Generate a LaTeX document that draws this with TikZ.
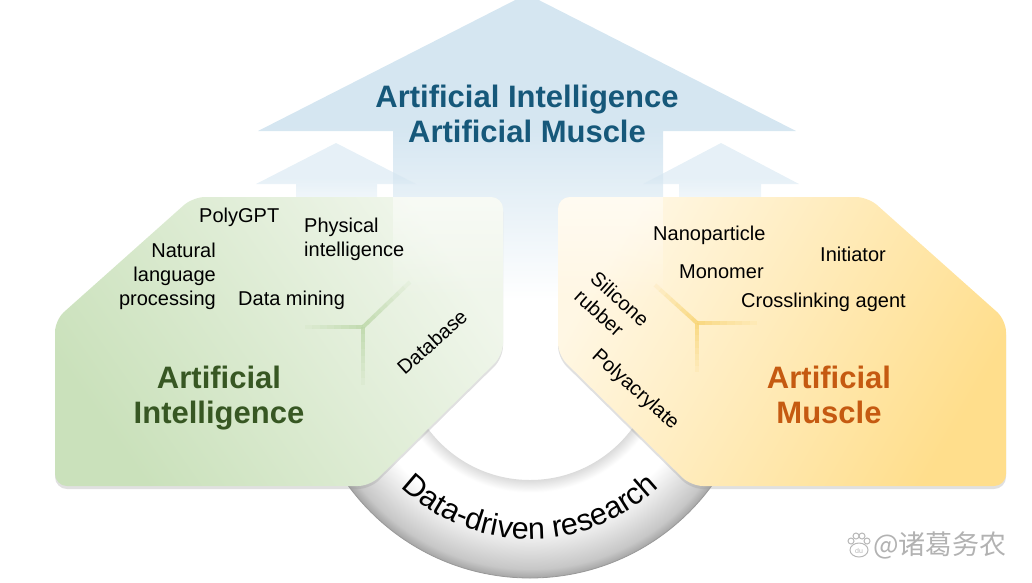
\documentclass[tikz,border=0pt]{standalone}
\usepackage{fontspec}
\setmainfont{Liberation Sans}
\newfontfamily\cjkfont{Noto Sans CJK SC}
\usetikzlibrary{calc,decorations.text,fadings}

\definecolor{arrowblue}{RGB}{213,230,241}
\definecolor{titleblue}{RGB}{22,88,122}
\definecolor{aidark}{RGB}{202,225,187}
\definecolor{ailight}{RGB}{240,246,235}
\definecolor{aitext}{RGB}{55,87,35}
\definecolor{aiglow}{RGB}{188,215,168}
\definecolor{amdark}{RGB}{255,222,140}
\definecolor{amlight}{RGB}{255,247,228}
\definecolor{amtext}{RGB}{197,90,17}
\definecolor{amglow}{RGB}{248,212,115}

\pgfdeclareverticalshading{arrowfade}{100bp}{color(0bp)=(white); color(33bp)=(white); color(57bp)=(arrowblue); color(100bp)=(arrowblue)}
\pgfdeclareradialshading{ringshade}{\pgfpoint{0bp}{0bp}}{color(0bp)=(white); color(14bp)=(black!15); color(15.5bp)=(white); color(19bp)=(white); color(24bp)=(black!22); color(25bp)=(black!35); color(50bp)=(black!35)}
\tikzfading[name=shaftfade, top color=transparent!45, bottom color=transparent!100]

\newcommand{\aipath}{(193,197) -- (503,197) -- (503,355) -- (370,486) -- (55,486) -- (55,320) -- cycle}
\newcommand{\ampath}{(558,197) -- (868,197) -- (1006,320) -- (1006,486) -- (691,486) -- (558,355) -- cycle}

\begin{document}
\begin{tikzpicture}[x=1pt,y=-1pt,
  lbl/.style={font=\fontsize{20}{24}\selectfont, inner sep=0pt},
  bigtitle/.style={font=\fontsize{31}{35}\selectfont\bfseries, align=center, inner sep=0pt},
  boxshadow/.style={fill=black!40, opacity=0.3, rounded corners=12pt, yshift=-3pt},
  aibox/.style={rounded corners=12pt, top color=ailight, bottom color=aidark, shading angle=-55},
  ambox/.style={rounded corners=12pt, top color=amlight, bottom color=amdark, shading angle=60},
  shaftglow/.style={fill=white, path fading=shaftfade}]
\useasboundingbox (0,0) rectangle (1032,582);

% Arrows
\shade[shading=arrowfade] (527,-6) -- (796,131) -- (663,131) -- (663,360) -- (393,360) -- (393,131) -- (258,131) -- cycle;
\shade[shading=arrowfade, opacity=0.6] (336,143) -- (416,184) -- (377,184) -- (377,240) -- (296,240) -- (296,184) -- (256,184) -- cycle;
\shade[shading=arrowfade, opacity=0.6] (721,143) -- (799,184) -- (761,184) -- (761,240) -- (679,240) -- (679,184) -- (643,184) -- cycle;

% Ring
\coordinate (rc) at (530,353);
\begin{scope}
  \clip (300,353) rectangle (760,590);
  \shade[shading=ringshade, even odd rule] (rc) circle[radius=225] (rc) circle[radius=127];
  \draw[black!40, line width=0.8pt] (rc) circle[radius=225];
\end{scope}
\path[decorate, decoration={text along path, text align=center,
  text={|\fontsize{30.5}{30.5}\selectfont|Data-driven research}}]
  ($(rc)+(152:186)$) arc[start angle=152, end angle=28, radius=186];

% Boxes
\fill[boxshadow] \aipath;
\fill[boxshadow] \ampath;
\shade[aibox] \aipath;
\shade[ambox] \ampath;
\begin{scope}
  \clip[rounded corners=12pt] \aipath;
  \fill[shaftglow] (393,190) rectangle (520,300);
\end{scope}
\begin{scope}
  \clip[rounded corners=12pt] \ampath;
  \fill[shaftglow] (540,190) rectangle (663,300);
\end{scope}

% Glow lines
\coordinate (aiy) at (363,327);
\coordinate (aiy1) at (410,282);
\coordinate (aiy2) at (305,327);
\coordinate (aiy3) at (363,385);
\coordinate (amy) at (697,323);
\coordinate (amy1) at (655,285);
\coordinate (amy2) at (757,323);
\coordinate (amy3) at (697,372);
\foreach \yc/\ytip/\ycol in {aiy/aiy1/aiglow, aiy/aiy2/aiglow, aiy/aiy3/aiglow, amy/amy1/amglow, amy/amy2/amglow, amy/amy3/amglow} {
  \foreach \k [evaluate=\k as \pa using \k/8, evaluate=\k as \pb using \k/8+0.125, evaluate=\k as \op using 0.8-0.095*\k] in {0,...,7} {
    \path (\yc) -- (\ytip) coordinate[pos=\pa] (ga) coordinate[pos=\pb] (gb);
    \draw[\ycol, line width=4pt, draw opacity=\op] (ga) -- (gb);
  }
}

% Titles
\node[bigtitle, text=titleblue, anchor=north] (title) at (527,84.5) {Artificial Intelligence\\Artificial Muscle};
\node[bigtitle, text=aitext, anchor=north] (aititle) at (219,365.5) {Artificial\\Intelligence};
\node[bigtitle, text=amtext, anchor=north] (amtitle) at (829,365.5) {Artificial\\Muscle};

% Labels
\node[lbl, anchor=base west] (polygpt) at (199,222) {PolyGPT};
\node[lbl, anchor=north west, align=left] (physint) at (304,217.5) {Physical\\intelligence};
\node[lbl, anchor=north east, align=right] (nlp) at (216,242.5) {Natural\\language\\processing};
\node[lbl, anchor=base west] (mining) at (238,305) {Data mining};
\node[lbl, rotate=42] (database) at (432,342) {Database};
\node[lbl, anchor=base west] (nano) at (653,240) {Nanoparticle};
\node[lbl, anchor=base west] (initiator) at (820,261) {Initiator};
\node[lbl, anchor=base west] (monomer) at (679,278) {Monomer};
\node[lbl, anchor=base west] (crosslink) at (741,307) {Crosslinking agent};
\node[lbl, rotate=-42, align=left] (silicone) at (612,308) {Silicone\\rubber};
\node[lbl, rotate=-42] (polyacr) at (635,390) {Polyacrylate};

% Watermark
\begin{scope}[shift={(859,547)}, black!28, line width=1pt]
  \draw (0,3) ellipse (9 and 7);
  \foreach \px/\py in {-8/-6, -3/-11, 3/-11, 8/-6} \draw (\px,\py) circle (3);
  \node[font=\fontsize{7}{7}\selectfont, inner sep=0pt] (du) at (0,4) {du};
\end{scope}
\node[font=\cjkfont\fontsize{27}{27}\selectfont, text=black!30, anchor=west, inner sep=0pt] (mark) at (873,545) {@诸葛务农};
\end{tikzpicture}
\end{document}
